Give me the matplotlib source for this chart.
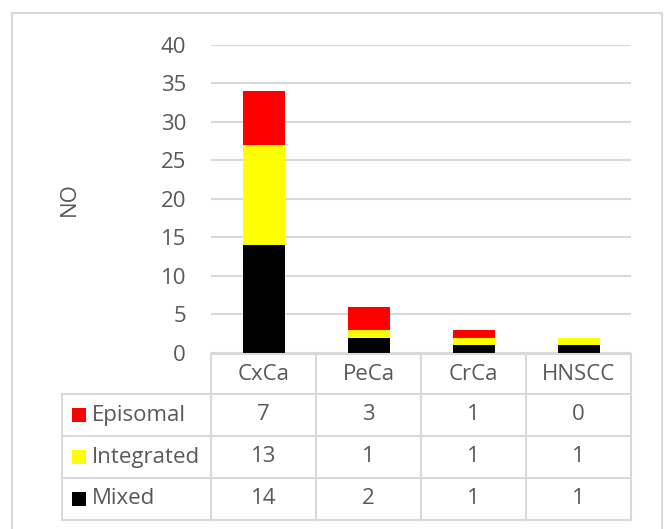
import matplotlib.pyplot as plt
from matplotlib.lines import Line2D
from matplotlib.patches import Rectangle

plt.rcParams['font.family'] = ['Open Sans', 'DejaVu Sans']

categories = ['CxCa', 'PeCa', 'CrCa', 'HNSCC']
series_names = ['Episomal', 'Integrated', 'Mixed']
episomal = [7, 3, 1, 0]
integrated = [13, 1, 1, 1]
mixed = [14, 2, 1, 1]
colors = {'Episomal': '#ff0000', 'Integrated': '#ffff00', 'Mixed': '#000000'}

W, H = 668, 529
txt = '#595959'
grid = '#d9d9d9'
fs = 16

fig = plt.figure(figsize=(W / 100, H / 100), dpi=100)

# pixel -> figure coords helpers
def fx(x):
    return x / W

def fy(y):
    return 1 - y / H

ax_l, ax_r, ax_t, ax_b = 211, 631, 44.7, 353
ax = fig.add_axes([fx(ax_l), fy(ax_b), fx(ax_r) - fx(ax_l), fy(ax_t) - fy(ax_b)])

x = range(len(categories))
ax.bar(x, mixed, width=0.4, color=colors['Mixed'], zorder=3)
ax.bar(x, integrated, width=0.4, bottom=mixed, color=colors['Integrated'], zorder=3)
bottom2 = [m + i for m, i in zip(mixed, integrated)]
ax.bar(x, episomal, width=0.4, bottom=bottom2, color=colors['Episomal'], zorder=3)

ax.set_xlim(-0.5, len(categories) - 0.5)
ax.set_ylim(0, 40)
ax.set_yticks(range(0, 41, 5))
ax.set_xticks([])
ax.yaxis.grid(True, color=grid, linewidth=1.5)
ax.set_axisbelow(True)
for s in ax.spines.values():
    s.set_visible(False)
ax.tick_params(axis='y', length=0, pad=18, labelsize=fs, labelcolor=txt)
ax.set_ylabel('NO', fontsize=fs, color=txt, labelpad=58)

# outer chart border
fig.add_artist(Rectangle((fx(12), fy(540)), fx(662) - fx(12), fy(13) - fy(540),
                         transform=fig.transFigure, fill=False, edgecolor=grid, linewidth=1.5))

# data table
col_x = [211, 316, 421, 526, 631]
row_y = [354, 394, 436, 478, 520]
tab_left = 62

def hline(y, x0, x1):
    fig.add_artist(Line2D([fx(x0), fx(x1)], [fy(y), fy(y)], color=grid, linewidth=1.5))

def vline(x0, y0, y1):
    fig.add_artist(Line2D([fx(x0), fx(x0)], [fy(y0), fy(y1)], color=grid, linewidth=1.5))

hline(row_y[0], col_x[0], col_x[-1])
for y in row_y[1:]:
    hline(y, tab_left, col_x[-1])
for cx in col_x:
    vline(cx, row_y[0], row_y[-1])
vline(tab_left, row_y[1], row_y[-1])

for i, c in enumerate(categories):
    xc = (col_x[i] + col_x[i + 1]) / 2
    fig.text(fx(xc), fy((row_y[0] + row_y[1]) / 2), c, ha='center', va='center',
             fontsize=fs, color=txt)

table_rows = [('Episomal', episomal), ('Integrated', integrated), ('Mixed', mixed)]
for r, (name, vals) in enumerate(table_rows):
    yc = (row_y[r + 1] + row_y[r + 2]) / 2
    fig.add_artist(Rectangle((fx(72), fy(yc + 7)), fx(86) - fx(72), fy(yc - 7) - fy(yc + 7),
                             transform=fig.transFigure, facecolor=colors[name], edgecolor='none'))
    fig.text(fx(92), fy(yc), name, ha='left', va='center', fontsize=fs, color=txt)
    for i, v in enumerate(vals):
        xc = (col_x[i] + col_x[i + 1]) / 2
        fig.text(fx(xc), fy(yc), str(v), ha='center', va='center', fontsize=fs, color=txt)

fig.savefig('out.png', dpi=100)
